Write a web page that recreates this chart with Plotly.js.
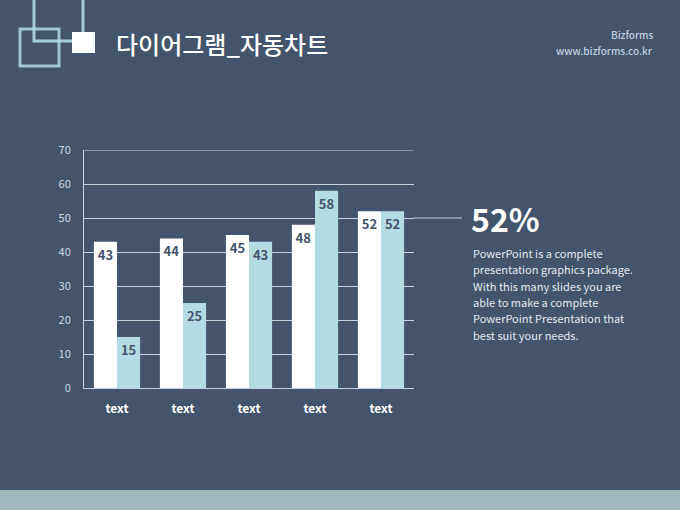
<!DOCTYPE html>
<html>
<head>
<meta charset="utf-8">
<script src="https://cdn.plot.ly/plotly-3.0.1.min.js"></script>
<style>
html,body{margin:0;padding:0;background:#44546c;}
#chart{width:680px;height:510px;}
</style>
</head>
<body>
<div id="chart"></div>
<script>
const categories = ["text", "text ", "text  ", "text   ", "text    "];
const series1 = [43, 44, 45, 48, 52];
const series2 = [15, 25, 43, 58, 52];
const yTicks = [0, 10, 20, 30, 40, 50, 60, 70];
const highlight = "52%";
const descriptionLines = [
  "PowerPoint is a complete",
  "presentation graphics package.",
  "With this many slides you are",
  "able to make a complete",
  "PowerPoint Presentation that",
  "best suit your needs."
];

const W = 680, H = 510;
const L = 84, R = 414, T = 150, B = 388;
const px = x => (x - L) / (R - L);
const py = y => (B - y) / (B - T);

const labelFont = {family: "Noto Sans CJK KR, Noto Sans, sans-serif", size: 13, color: "#44546c", weight: 700};

const traces = [
  {type: "bar", x: categories, y: series1, marker: {color: "#ffffff"},
   text: series1.map(String), textposition: "inside", insidetextanchor: "end",
   textfont: labelFont, cliponaxis: false, hoverinfo: "none", textangle: 0},
  {type: "bar", x: categories, y: series2, marker: {color: "#b2dbe2"},
   text: series2.map(String), textposition: "inside", insidetextanchor: "end",
   textfont: labelFont, cliponaxis: false, hoverinfo: "none", textangle: 0}
];

const lineColor = "rgba(175,218,228,0.9)";
const shapes = [
  {type: "rect", xref: "paper", yref: "paper", x0: px(0), x1: px(W), y0: py(490), y1: py(H + 5),
   fillcolor: "#a0b7bb", line: {width: 0}, layer: "below"},
  {type: "rect", xref: "paper", yref: "paper", x0: px(34), x1: px(83), y0: py(-10), y1: py(41),
   fillcolor: "rgba(0,0,0,0)", line: {color: lineColor, width: 3}},
  {type: "rect", xref: "paper", yref: "paper", x0: px(20), x1: px(59), y0: py(29), y1: py(66),
   fillcolor: "rgba(0,0,0,0)", line: {color: "rgba(175,218,228,0.85)", width: 3}},
  {type: "rect", xref: "paper", yref: "paper", x0: px(72), x1: px(95), y0: py(32), y1: py(53),
   fillcolor: "#ffffff", line: {width: 0}},
  {type: "line", xref: "paper", yref: "y", x0: 0, x1: 1, y0: 70, y1: 70,
   line: {color: "#c9d1dc", width: 1}, layer: "below"},
  {type: "line", xref: "paper", yref: "y", x0: 1, x1: px(462), y0: 50, y1: 50,
   line: {color: "#c9d1dc", width: 1}}
];

const annotations = [
  {text: "다이어그램_자동차트", xref: "paper", yref: "paper", x: px(114), y: py(43),
   xanchor: "left", yanchor: "middle", showarrow: false,
   font: {family: "Noto Sans CJK KR", size: 24, color: "#ffffff", weight: 500}},
  {text: "Bizforms", xref: "paper", yref: "paper", x: px(655), y: py(35),
   xanchor: "right", yanchor: "middle", showarrow: false,
   font: {family: "Noto Sans CJK KR", size: 10, color: "#c3cde0", weight: 500}},
  {text: "www.bizforms.co.kr", xref: "paper", yref: "paper", x: px(655), y: py(51),
   xanchor: "right", yanchor: "middle", showarrow: false,
   font: {family: "Noto Sans CJK KR", size: 10, color: "#c3cde0", weight: 500}},
  {text: "<b>" + highlight + "</b>", xref: "paper", yref: "paper", x: px(469), y: py(218),
   xanchor: "left", yanchor: "middle", showarrow: false,
   font: {family: "Noto Sans CJK KR", size: 32, color: "#ffffff"}}
];
descriptionLines.forEach((line, i) => {
  annotations.push({text: line, xref: "paper", yref: "paper", x: px(471), y: py(253 + i * 16.3),
    xanchor: "left", yanchor: "middle", align: "left", showarrow: false,
    font: {family: "Noto Sans CJK KR", size: 11, color: "#e3e8ef"}});
});

const layout = {
  width: W, height: H,
  margin: {l: L, r: W - R, t: T, b: H - B, pad: 0},
  paper_bgcolor: "#44546c", plot_bgcolor: "#44546c",
  showlegend: false,
  barmode: "group", bargap: 0.3, bargroupgap: 0,
  xaxis: {
    tickvals: categories, ticktext: categories.map(s => "<b>" + s.trim() + "</b>"),
    tickfont: {family: "Noto Sans CJK KR", size: 12, color: "#ffffff"},
    showline: true, linecolor: "#c9d1dc", linewidth: 1,
    showgrid: false, ticks: "", ticklen: 0, zeroline: false, fixedrange: true,
    ticklabelstandoff: 10
  },
  yaxis: {
    range: [0, 70], tickvals: yTicks, ticktext: yTicks.map(String),
    tickfont: {family: "Noto Sans CJK KR", size: 11, color: "#d0d7e2"},
    showgrid: true, gridcolor: "#c9d1dc", gridwidth: 1,
    showline: true, linecolor: "#c9d1dc", linewidth: 1,
    zeroline: false, ticks: "", ticklabelstandoff: 10, fixedrange: true
  },
  shapes: shapes,
  annotations: annotations
};

Plotly.newPlot("chart", traces, layout, {displayModeBar: false, staticPlot: true});
</script>
</body>
</html>
